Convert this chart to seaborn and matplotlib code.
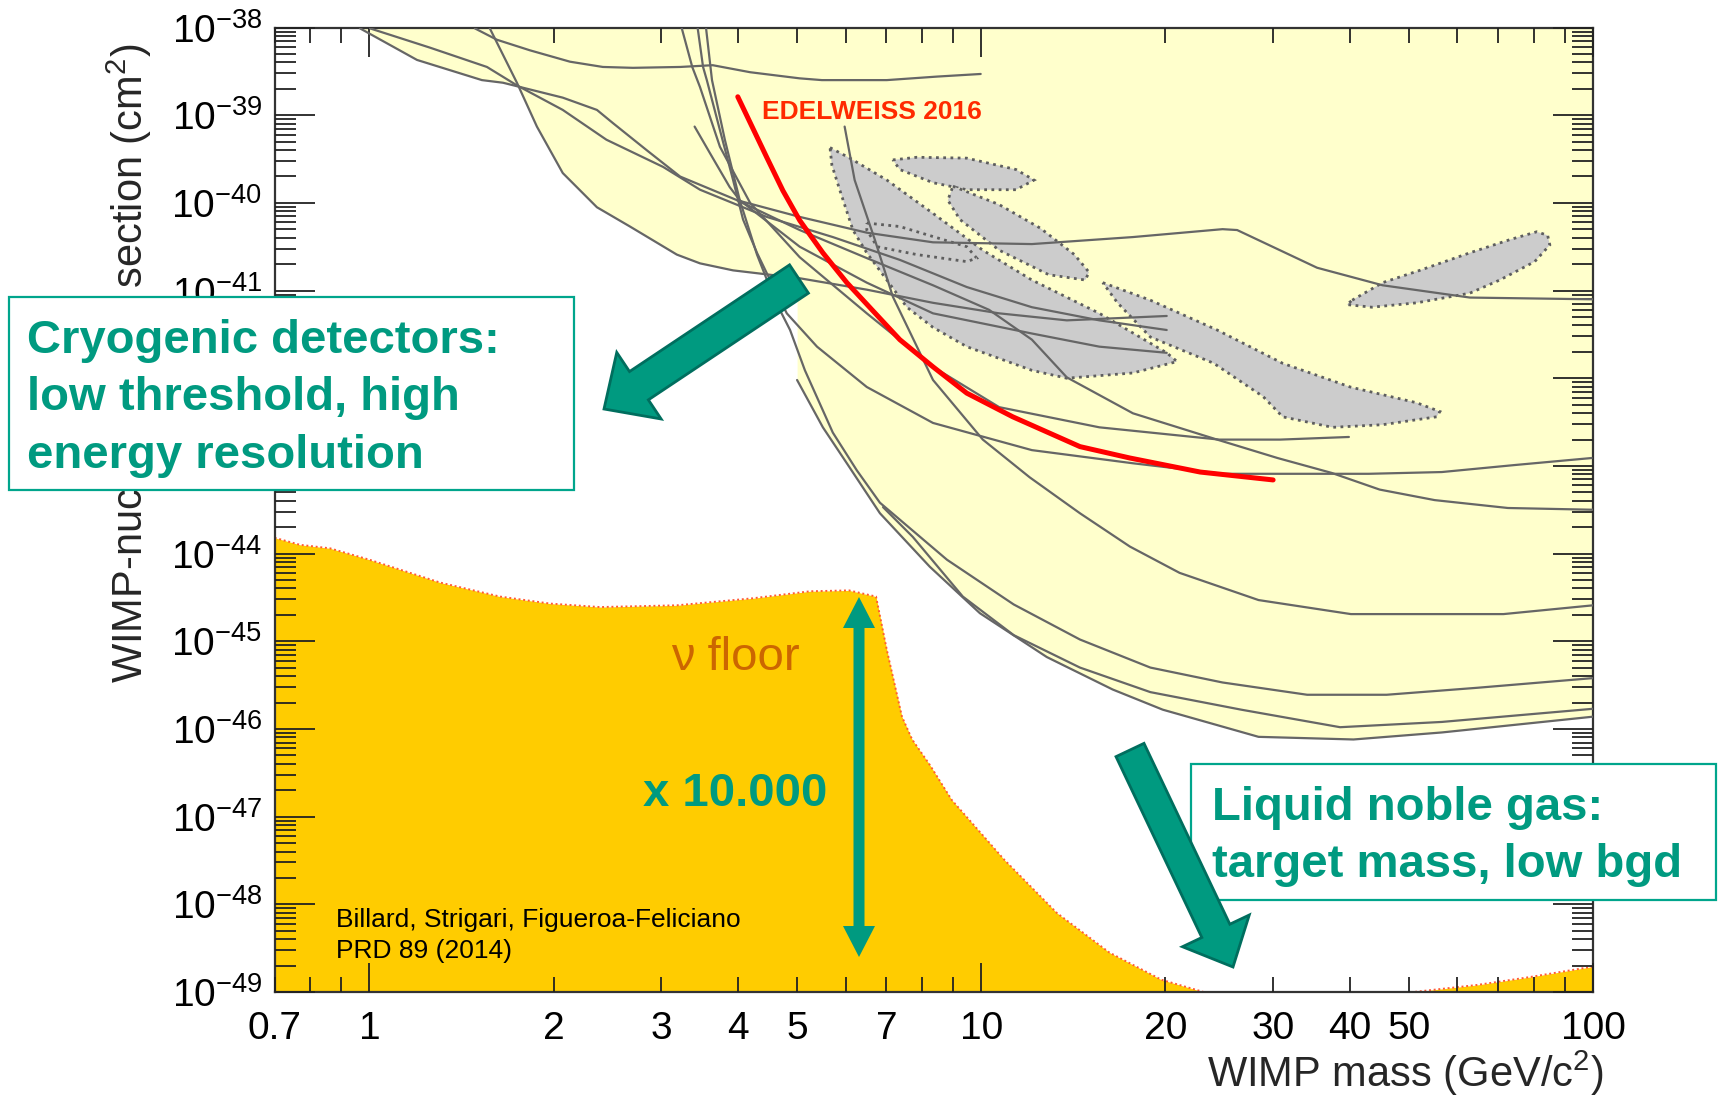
import numpy as np
import matplotlib
matplotlib.use("Agg")
import matplotlib.pyplot as plt
import seaborn as sns
from matplotlib.patches import Polygon, Rectangle
from matplotlib.ticker import FixedLocator, FuncFormatter, NullFormatter

# ---------------- data (WIMP mass in GeV, log10 cross-section in cm^2) ----------------
# union of excluded parameter space (lower boundary of the pale-yellow area)
excl_m = [0.965, 1.196, 1.527, 1.653, 1.742, 1.878, 2.07, 2.354, 2.666, 3.18, 3.47, 3.93, 4.5, 5.0,
          5.0, 5.51, 6.03, 6.83, 8.24, 9.95, 12.8, 16.4, 19.8, 28.4, 40.6, 56.6, 100]
excl_ls = [-38.0, -38.37, -38.60, -38.63, -38.66, -39.13, -39.66, -40.05, -40.27, -40.59, -40.69, -40.77,
           -40.82, -40.85, -42.02, -42.56, -42.97, -43.54, -44.15, -44.68, -45.18, -45.55, -45.78,
           -46.09, -46.12, -46.04, -45.86]

# individual exclusion limits (grey lines)
lim01_m = [0.965, 1.196, 1.527, 1.653, 2.07, 2.354, 2.50, 2.84, 3.22, 3.99, 5.05, 6.50, 8.34, 12.1,
           17.7, 24.8, 26.2, 35.4, 45.3, 62.9, 100]
lim01_ls = [-38.01, -38.37, -38.60, -38.63, -38.80, -38.94, -39.09, -39.40, -39.70, -39.97, -40.16,
            -40.34, -40.45, -40.47, -40.39, -40.30, -40.31, -40.74, -40.94, -41.08, -41.10]
lim02_m = [1.002, 1.256, 1.556, 1.742, 2.07, 2.44, 3.02, 3.47, 4.46, 5.72, 7.36, 9.47, 12.1, 15.6, 20.1]
lim02_ls = [-38.01, -38.23, -38.45, -38.66, -38.94, -39.28, -39.59, -39.85, -40.16, -40.39, -40.65,
            -40.96, -41.19, -41.34, -41.45]
lim03_m = [1.573, 1.742, 1.878, 2.07, 2.354, 2.666, 3.18, 3.47, 3.93, 5.05, 6.50, 8.34, 10.7, 13.8, 20.1]
lim03_ls = [-38.01, -38.63, -39.13, -39.66, -40.05, -40.27, -40.59, -40.69, -40.77, -40.86, -40.99,
            -41.14, -41.26, -41.34, -41.29]
lim04_m = [1.487, 1.616, 1.829, 2.127, 2.407, 2.696, 3.22, 3.64, 4.19, 5.05, 5.49, 7.01, 8.46, 9.98]
lim04_ls = [-38.01, -38.14, -38.26, -38.39, -38.45, -38.46, -38.45, -38.43, -38.51, -38.58, -38.60,
            -38.60, -38.56, -38.53]
lim05_m = [3.40, 3.60, 3.88, 4.03, 5.05, 6.50, 8.34, 12.1, 15.6, 20.1]
lim05_ls = [-39.13, -39.43, -39.82, -39.97, -40.50, -40.91, -41.26, -41.49, -41.64, -41.71]
lim06_m = [5.98, 6.21, 6.70, 7.17, 8.34, 10.06, 12.0, 14.5, 17.5, 21.1, 28.4, 40.2, 71.4, 100]
lim06_ls = [-39.13, -39.74, -40.42, -41.07, -42.02, -42.70, -43.13, -43.54, -43.92, -44.22, -44.53,
            -44.69, -44.69, -44.59]
lim07_m = [3.24, 3.37, 3.47, 3.74, 4.19, 5.05, 6.50, 8.34, 10.7, 15.6, 24.5, 30.8, 39.9]
lim07_ls = [-38.01, -38.45, -38.68, -39.36, -40.00, -40.62, -41.26, -41.87, -42.33, -42.56, -42.70,
            -42.70, -42.67]
lim08_m = [3.44, 3.51, 3.56, 3.74, 3.93, 4.08, 4.30, 4.46, 4.81, 5.39, 6.50, 8.34, 12.1, 17.7, 24.8,
           43.0, 56.6, 74.5, 99.5]
lim08_ls = [-38.01, -38.45, -38.60, -39.17, -39.74, -40.19, -40.57, -40.80, -41.26, -41.64, -42.10,
            -42.51, -42.82, -42.97, -43.09, -43.09, -43.07, -42.99, -42.91]
lim09_m = [3.55, 3.63, 3.81, 4.03, 4.30, 4.60, 4.87, 5.15, 5.72, 6.26, 6.83, 8.79, 11.3, 14.5, 18.9,
           24.8, 34.1, 46.0, 64.8, 100]
lim09_ls = [-38.01, -38.60, -39.28, -39.97, -40.59, -41.11, -41.45, -41.91, -42.62, -43.05, -43.42,
            -44.07, -44.58, -44.98, -45.30, -45.47, -45.61, -45.61, -45.53, -45.42]
lim10_m = [5.00, 5.51, 6.03, 6.83, 8.24, 9.95, 12.8, 16.4, 19.8, 28.4, 40.6, 56.6, 100]
lim10_ls = [-42.02, -42.56, -42.97, -43.54, -44.15, -44.68, -45.18, -45.55, -45.78, -46.09, -46.12,
            -46.04, -45.86]
lim11_m = [6.91, 7.73, 9.33, 11.3, 14.5, 18.9, 26.6, 38.6, 56.6, 100]
lim11_ls = [-43.47, -43.81, -44.49, -44.93, -45.30, -45.58, -45.78, -45.98, -45.92, -45.77]
lim12_m = [3.99, 5.05, 6.50, 8.34, 10.3, 12.1, 13.8, 17.7, 24.3, 30.5, 37.4, 44.8, 55.1, 72.6, 100]
lim12_ls = [-39.97, -40.31, -40.63, -40.94, -41.22, -41.56, -41.99, -42.40, -42.70, -42.91, -43.08,
            -43.27, -43.39, -43.48, -43.50]

# EDELWEISS 2016 limit (red)
edw_m = [4.00, 4.46, 4.74, 5.05, 5.51, 6.03, 6.65, 7.36, 8.34, 9.47, 11.26, 14.5, 17.5, 22.8, 30.0]
edw_ls = [-38.79, -39.48, -39.86, -40.20, -40.57, -40.91, -41.23, -41.56, -41.87, -42.17, -42.44,
          -42.78, -42.91, -43.07, -43.16]

# signal regions (grey contours)
reg1_m = [5.66, 6.10, 7.01, 8.34, 10.06, 12.1, 15.6, 20.1, 20.9, 17.7, 13.8, 12.1, 9.47, 8.34, 7.56,
          7.01, 6.50, 6.17, 5.87, 5.70]
reg1_ls = [-39.37, -39.49, -39.74, -40.12, -40.54, -40.88, -41.26, -41.71, -41.81, -41.94, -42.00,
           -41.91, -41.64, -41.42, -41.19, -40.88, -40.57, -40.31, -39.85, -39.57]
reg2_m = [7.17, 7.85, 9.47, 11.4, 12.2, 11.4, 9.47, 8.34, 7.36]
reg2_ls = [-39.51, -39.48, -39.49, -39.62, -39.74, -39.85, -39.85, -39.77, -39.62]
reg3_m = [8.99, 10.7, 12.5, 14.2, 15.0, 14.8, 12.9, 10.7, 9.23, 8.82]
reg3_ls = [-39.81, -40.02, -40.29, -40.59, -40.79, -40.88, -40.82, -40.54, -40.19, -39.97]
reg4_m = [6.50, 7.36, 9.47, 9.83, 9.47, 7.85, 6.76, 6.50]
reg4_ls = [-40.23, -40.27, -40.50, -40.63, -40.67, -40.59, -40.50, -40.31]
reg5_m = [15.8, 18.9, 24.3, 31.1, 40.1, 51.5, 56.2, 55.5, 45.3, 37.5, 31.1, 28.9, 24.0, 18.9, 16.7]
reg5_ls = [-40.91, -41.11, -41.45, -41.83, -42.10, -42.28, -42.38, -42.44, -42.53, -42.56, -42.44,
           -42.21, -41.83, -41.53, -41.14]
reg6_m = [40.4, 45.3, 52.1, 62.9, 73.1, 80.9, 84.3, 85.0, 80.3, 70.4, 62.9, 51.5, 43.5, 39.6]
reg6_ls = [-41.11, -40.91, -40.77, -40.57, -40.42, -40.33, -40.37, -40.48, -40.67, -40.88, -41.03,
           -41.14, -41.19, -41.16]

# neutrino floor (Billard, Strigari, Figueroa-Feliciano 2014)
floor_m = [0.70, 0.77, 0.862, 1.00, 1.304, 1.634, 1.972, 2.38, 3.18, 4.23, 5.25, 6.08, 6.73, 7.01, 7.42,
           7.71, 8.24, 8.95, 10.9, 13.3, 16.2, 19.7, 23.1, 30.0, 40.0, 50.9, 64.6, 78.8, 100]
floor_ls = [-43.82, -43.90, -43.94, -44.07, -44.33, -44.49, -44.57, -44.61, -44.59, -44.51, -44.43,
            -44.42, -44.49, -45.10, -45.86, -46.12, -46.41, -46.81, -47.49, -48.10, -48.55, -48.86,
            -49.00, -49.12, -49.10, -49.00, -48.92, -48.83, -48.71]

x_minor_ticks = [0.7, 0.8, 0.9, 2, 3, 4, 5, 6, 7, 8, 9, 20, 30, 40, 50, 60, 70, 80, 90]
x_major_ticks = [1, 10, 100]
x_tick_labels = [0.7, 1, 2, 3, 4, 5, 7, 10, 20, 30, 40, 50, 100]
y_decades = list(range(-49, -37))

# ---------------- style ----------------
sns.set_style("ticks")
plt.rcParams["font.family"] = ["Liberation Sans", "DejaVu Sans"]
plt.rcParams["mathtext.fontset"] = "custom"
plt.rcParams["mathtext.rm"] = "Liberation Sans"
plt.rcParams["mathtext.it"] = "Liberation Sans:italic"
plt.rcParams["mathtext.bf"] = "Liberation Sans:bold"
plt.rcParams["mathtext.sf"] = "Liberation Sans"

YELLOW = "#FFFFCC"
ORANGE = "#FFCC00"
GREY_LINE = "#666666"
BLOB = "#CCCCCC"
TEAL = "#009A80"
TEAL_DARK = "#006E5E"
TEAL_EDGE = "#00A58C"

W, H = 1723, 1096
fig = plt.figure(figsize=(W / 100, H / 100), dpi=100)
AX_L, AX_R, AX_T, AX_B = 274.7, 1593.0, 27.5, 992.0
ax = fig.add_axes([AX_L / W, 1 - AX_B / H, (AX_R - AX_L) / W, (AX_B - AX_T) / H])
ax.set_xscale("log")
ax.set_yscale("log")
ax.set_facecolor("white")


def sig(ls):
    return 10.0 ** np.asarray(ls, dtype=float)


# excluded region
ax.fill_between(excl_m, sig(excl_ls), 1e-38, color=YELLOW, lw=0, zorder=1)
# neutrino floor
ax.fill_between(floor_m, sig(floor_ls), 1e-51, color=ORANGE, lw=0, zorder=1.2)
ax.plot(floor_m, sig(floor_ls), color="#FF5A36", lw=1.4, ls=(0, (1, 1.4)), zorder=1.3)

# signal regions
for rm, rl in [(reg1_m, reg1_ls), (reg2_m, reg2_ls), (reg3_m, reg3_ls), (reg4_m, reg4_ls),
               (reg5_m, reg5_ls), (reg6_m, reg6_ls)]:
    ax.fill(rm, sig(rl), facecolor=BLOB, edgecolor="#5E5E5E", lw=2.0, ls=(0, (1, 1.6)), zorder=3)

# limit lines
limits = [(lim01_m, lim01_ls), (lim02_m, lim02_ls), (lim03_m, lim03_ls), (lim04_m, lim04_ls),
          (lim05_m, lim05_ls), (lim06_m, lim06_ls), (lim07_m, lim07_ls), (lim08_m, lim08_ls),
          (lim09_m, lim09_ls), (lim10_m, lim10_ls), (lim11_m, lim11_ls), (lim12_m, lim12_ls)]
for lm, ll in limits:
    sns.lineplot(x=lm, y=sig(ll), sort=False, estimator=None, color=GREY_LINE, lw=1.6, ax=ax, zorder=4)
sns.lineplot(x=edw_m, y=sig(edw_ls), sort=False, estimator=None, color="#FF0000", lw=3.6, ax=ax, zorder=5)

ax.set_xlim(0.7, 100)
ax.set_ylim(1e-49, 1e-38)
ax.set_axisbelow(False)

# ticks
ax.xaxis.set_major_locator(FixedLocator(x_major_ticks))
ax.xaxis.set_minor_locator(FixedLocator(x_minor_ticks))
ax.xaxis.set_major_formatter(FuncFormatter(lambda v, p: f"{v:g}"))
ax.xaxis.set_minor_formatter(FuncFormatter(
    lambda v, p: f"{v:g}" if any(abs(v - t) < 1e-9 for t in x_tick_labels) else ""))
ax.yaxis.set_major_locator(FixedLocator([10.0 ** e for e in y_decades]))
ax.yaxis.set_minor_locator(FixedLocator([k * 10.0 ** e for e in y_decades[:-1] for k in range(2, 10)]))
ax.yaxis.set_major_formatter(FuncFormatter(lambda v, p: "$10^{%d}$" % int(round(np.log10(v)))))
ax.yaxis.set_minor_formatter(NullFormatter())

ax.tick_params(axis="both", which="both", direction="in", top=True, right=True,
               color="#222222", labelcolor="black")
ax.tick_params(axis="y", which="major", length=29, width=1.3, labelsize=28, pad=9)
ax.tick_params(axis="y", which="minor", length=15, width=1.3)
ax.tick_params(axis="x", which="major", length=21, width=1.3, labelsize=28, pad=14)
ax.tick_params(axis="x", which="minor", length=11, width=1.3, labelsize=28, pad=14)
for s in ax.spines.values():
    s.set_color("#333333")
    s.set_linewidth(1.6)
    s.set_visible(True)
ax.set_xlabel("")
ax.set_ylabel("")


def fp(x, y):
    return (x / W, 1 - y / H)


# axis titles
fig.text(*fp(129, 44), "WIMP-nucleon cross section (cm$^2$)", rotation=90, ha="center", va="top",
         fontsize=30, zorder=5)
fig.text(*fp(1603, 1087), "WIMP mass (GeV/c$^2$)", ha="right", va="baseline", fontsize=30, zorder=5)

# annotations inside the plot
fig.text(*fp(762, 119), "EDELWEISS 2016", color="#FF2A00", fontsize=19, fontweight="bold",
         ha="left", va="baseline", zorder=25)
fig.text(*fp(671, 670), "ν floor", color="#CC6600", fontsize=34, ha="left", va="baseline", zorder=25)
fig.text(*fp(643, 806), "x 10.000", color=TEAL, fontsize=34, fontweight="bold", ha="left",
         va="baseline", zorder=25)
fig.text(*fp(336, 927), "Billard, Strigari, Figueroa-Feliciano", color="black", fontsize=19,
         ha="left", va="baseline", zorder=25)
fig.text(*fp(336, 958), "PRD 89 (2014)", color="black", fontsize=19, ha="left", va="baseline", zorder=25)


def arrow_pts(x0, y0, x1, y1, w, hw, hl):
    d = np.array([x1 - x0, y1 - y0], dtype=float)
    d /= np.hypot(*d)
    n = np.array([-d[1], d[0]])
    tail = np.array([x0, y0], dtype=float)
    tip = np.array([x1, y1], dtype=float)
    base = tip - d * hl
    pts = [tail + n * w / 2, base + n * w / 2, base + n * hw / 2, tip, base - n * hw / 2,
           base - n * w / 2, tail - n * w / 2]
    return [fp(p[0], p[1]) for p in pts]


def double_arrow_pts(x, y_top, y_bot, w, hw, hl):
    pts = [(x, y_top), (x + hw / 2, y_top + hl), (x + w / 2, y_top + hl), (x + w / 2, y_bot - hl),
           (x + hw / 2, y_bot - hl), (x, y_bot), (x - hw / 2, y_bot - hl), (x - w / 2, y_bot - hl),
           (x - w / 2, y_top + hl), (x - hw / 2, y_top + hl)]
    return [fp(px, py) for px, py in pts]


# text boxes
for (bx0, by0, bx1, by1) in [(9, 297, 574, 490), (1191, 764, 1716, 900)]:
    fig.add_artist(Rectangle(fp(bx0, by1), (bx1 - bx0) / W, (by1 - by0) / H, transform=fig.transFigure,
                             facecolor="white", edgecolor=TEAL_EDGE, lw=1.6, zorder=20))
for txt, yb in [("Cryogenic detectors:", 353), ("low threshold, high", 410.5), ("energy resolution", 468)]:
    fig.text(*fp(27, yb), txt, color=TEAL, fontsize=34, fontweight="bold", ha="left", va="baseline",
             zorder=21)
for txt, yb in [("Liquid noble gas:", 820), ("target mass, low bgd", 877)]:
    fig.text(*fp(1212, yb), txt, color=TEAL, fontsize=34, fontweight="bold", ha="left", va="baseline",
             zorder=21)

# big arrows
fig.add_artist(Polygon(arrow_pts(799, 279, 604, 409, 34, 80, 42), closed=True, transform=fig.transFigure,
                       facecolor=TEAL, edgecolor=TEAL_DARK, lw=2.0, zorder=30))
fig.add_artist(Polygon(arrow_pts(1130, 750, 1233, 967, 31, 74, 40), closed=True, transform=fig.transFigure,
                       facecolor=TEAL, edgecolor=TEAL_DARK, lw=2.0, zorder=30))
# double arrow (x 10.000)
fig.add_artist(Polygon(double_arrow_pts(859, 597, 957, 11, 32, 31), closed=True, transform=fig.transFigure,
                       facecolor=TEAL, edgecolor="none", zorder=30))

fig.savefig("out.png", dpi=100)
